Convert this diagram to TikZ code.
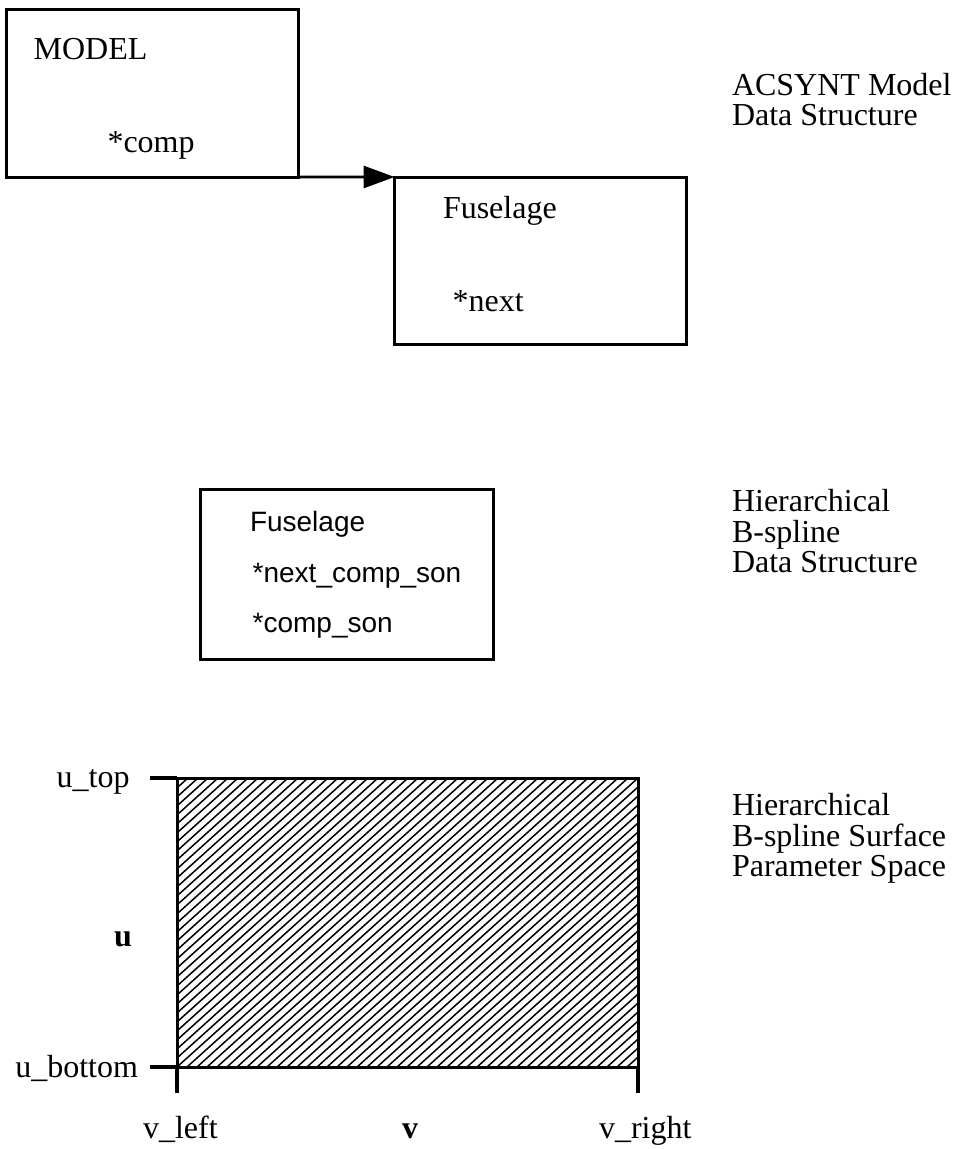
\documentclass[tikz,border=0pt]{standalone}
\usepackage{fontspec}
\setmainfont{Liberation Serif}
\setsansfont{Liberation Sans}
\usetikzlibrary{arrows.meta}

\newcommand\labfont{\fontsize{32}{30}\selectfont}
\newcommand\boxsans{\sffamily\fontsize{28}{30}\selectfont}

\begin{document}
\begin{tikzpicture}[x=1pt,y=-1pt,
  recbox/.style={draw,line width=3pt,rectangle,inner sep=0pt,outer sep=0pt,
    anchor=north west,minimum width=#1},
  txt/.style={inner sep=0pt,outer sep=0pt,anchor=base west,font=\labfont},
  rtxt/.style={inner sep=0pt,outer sep=0pt,anchor=base east,font=\labfont},
  stxt/.style={inner sep=0pt,outer sep=0pt,anchor=base west,font=\boxsans},
  pointer/.style={line width=2.8pt,-{Triangle[length=31pt,width=22pt]}},
  tickline/.style={line width=3.2pt},
  hatchline/.style={line width=1.5pt}]
\useasboundingbox (0,0) rectangle (961,1149);

% --- ACSYNT model data structure ---
\node[recbox=291.8pt,minimum height=167.7pt] (model) at (6.7,9.3) {};
\node[txt] (modeltitle) at (33.6,59.3) {MODEL};
\node[txt] (modelcomp) at (107.5,152) {*comp};

\node[recbox=292pt,minimum height=167pt] (fuse) at (394.6,177) {};
\node[txt] (fusetitle) at (443,218.3) {Fuselage};
\node[txt] (fusenext) at (452.7,311.7) {*next};

\draw[pointer] (model.south east) -- (fuse.north west);

\node[txt] (acsynt) at (732,95)
  {\begin{tabular}[t]{@{}l@{}}ACSYNT Model\\Data Structure\end{tabular}};

% --- hierarchical B-spline data structure ---
\node[recbox=292.6pt,minimum height=170.3pt] (hbs) at (200.7,489) {};
\node[stxt] (hbstitle) at (250,531) {Fuselage};
\node[stxt] (hbsnext) at (252.7,582.7) {*next\_comp\_son};
\node[stxt] (hbsson) at (252.7,632.7) {*comp\_son};

\node[txt] (hbslabel) at (732,511)
  {\begin{tabular}[t]{@{}l@{}}Hierarchical\\B-spline\\Data Structure\end{tabular}};

% --- parameter space of the surface ---
\node[recbox=461pt,minimum height=289pt] (pspace) at (177,778) {};
\begin{scope}
  \clip (pspace.north west) rectangle (pspace.south east);
  \foreach \i in {-34,...,47}
    \draw[hatchline] (177+10*\i,1067) -- ++(321,-289);
\end{scope}
\draw[line width=3pt] (pspace.north west) rectangle (pspace.south east);

\coordinate (toptick) at (150,778);
\coordinate (bottick) at (150,1067);
\coordinate (lefttick) at (177,1093);
\coordinate (righttick) at (638,1093);
\draw[tickline] (toptick) -- (pspace.north west);
\draw[tickline] (bottick) -- (pspace.south west);
\draw[tickline] (pspace.south west) -- (lefttick);
\draw[tickline] (pspace.south east) -- (righttick);

\node[rtxt] (utop) at (129.5,787) {u\_top};
\node[rtxt] (ubottom) at (138,1077) {u\_bottom};
\node[txt] (uaxis) at (114,946) {\textbf{u}};
\node[txt] (vleft) at (143,1138) {v\_left};
\node[txt] (vaxis) at (402,1138) {\textbf{v}};
\node[txt] (vright) at (599,1138) {v\_right};

\node[txt] (pslabel) at (732,815)
  {\begin{tabular}[t]{@{}l@{}}Hierarchical\\B-spline Surface\\Parameter Space\end{tabular}};
\end{tikzpicture}
\end{document}
